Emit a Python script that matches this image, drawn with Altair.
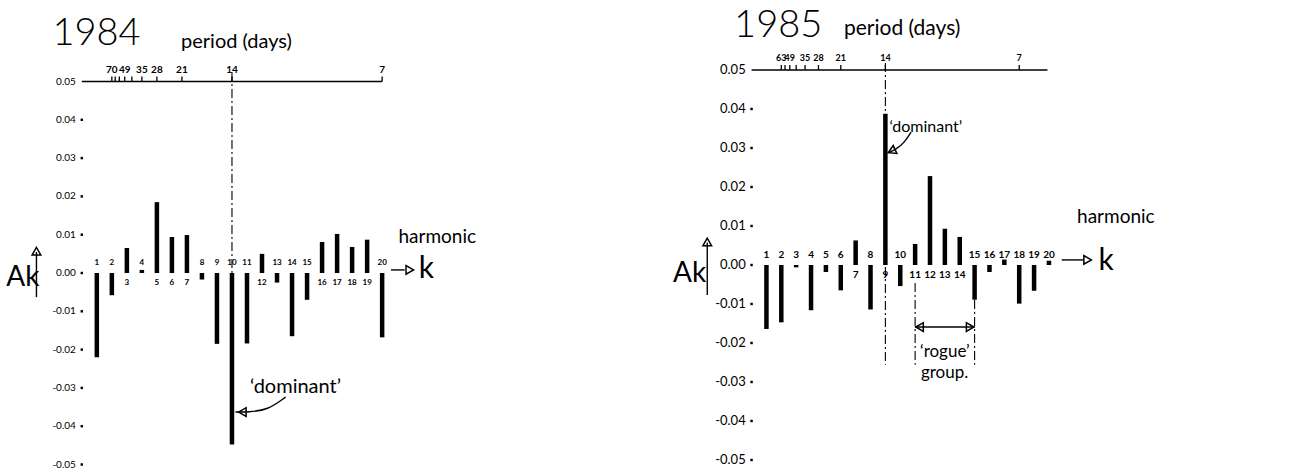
import altair as alt
import pandas as pd

# ---------------- values ----------------
harmonics = list(range(1, 21))
amp_1984 = [-0.0220, -0.0058, 0.0065, 0.0008, 0.0185, 0.0094, 0.0099, -0.0017, -0.0185, -0.0448,
            -0.0184, 0.0050, -0.0025, -0.0165, -0.0070, 0.0081, 0.0102, 0.0068, 0.0087, -0.0168]
amp_1985 = [-0.0164, -0.0147, -0.0006, -0.0116, -0.0018, -0.0065, 0.0063, -0.0114, 0.0388, -0.0054,
            0.0054, 0.0228, 0.0093, 0.0072, -0.0089, -0.0018, 0.0014, -0.0099, -0.0066, 0.0011]
record_days_1984 = 140   # 14-day period falls on harmonic 10
record_days_1985 = 126   # 14-day period falls on harmonic 9
period_ticks_1984 = [70, 63, 56, 49, 42, 35, 28, 21, 14, 7]
period_labels_1984 = [70, 49, 35, 28, 21, 14, 7]
period_ticks_1985 = [63, 56, 49, 42, 35, 28, 21, 14, 7]
period_labels_1985 = [63, 49, 35, 28, 21, 14, 7]
amp_ticks = [0.05, 0.04, 0.03, 0.02, 0.01, 0.00, -0.01, -0.02, -0.03, -0.04, -0.05]
rogue_group = [11, 15]

FONT = "Lato"
W, H = 654, 476


def panel(amps, N, pticks, plabels, xdom, ydom, ppu, fs_bar, fs_y, fs_top, texts, lines, tris, dashes, top_x2):
    xs = alt.Scale(domain=xdom, nice=False, zero=False)
    ys = alt.Scale(domain=ydom, nice=False, zero=False)

    def X(f="x"):
        return alt.X(f"{f}:Q", scale=xs, axis=None)

    def Y(f="y"):
        return alt.Y(f"{f}:Q", scale=ys, axis=None)

    layers = []
    # dash-dot guide lines
    dd = pd.DataFrame(dashes, columns=["x", "y", "y2"])
    layers.append(alt.Chart(dd).mark_rule(color="black", strokeWidth=1.1, strokeDash=[9, 3, 2, 3])
                  .encode(x=X(), y=Y(), y2=alt.Y2("y2:Q")))
    # top period axis
    top = pd.DataFrame({"x": [0.0], "x2": [top_x2], "y": [amp_ticks[0]]})
    layers.append(alt.Chart(top).mark_rule(color="black", strokeWidth=1.5)
                  .encode(x=X(), x2=alt.X2("x2:Q"), y=Y()))
    tk = pd.DataFrame({"x": [N / p for p in pticks]})
    tk["y"] = amp_ticks[0]
    tk["y2"] = amp_ticks[0] + 5.0 / ppu
    layers.append(alt.Chart(tk).mark_rule(color="black", strokeWidth=1.3)
                  .encode(x=X(), y=Y(), y2=alt.Y2("y2:Q")))
    tl = pd.DataFrame({"x": [N / p for p in plabels], "t": [str(p) for p in plabels]})
    tl["y"] = amp_ticks[0]
    layers.append(alt.Chart(tl).mark_text(baseline="bottom", dy=-7, fontSize=fs_top, fontWeight="bold",
                                          font=FONT, color="black")
                  .encode(x=X(), y=Y(), text="t:N"))
    # amplitude tick labels and dot ticks
    yl = pd.DataFrame({"y": amp_ticks, "t": [f"{v:.2f}" for v in amp_ticks]})
    yl["x"] = -6.0 / 15.2
    layers.append(alt.Chart(yl).mark_text(align="right", baseline="middle", fontSize=fs_y, font=FONT,
                                          color="black")
                  .encode(x=X(), y=Y(), text="t:N"))
    yd = pd.DataFrame({"y": amp_ticks[1:]})
    yd["x"] = 0.0
    layers.append(alt.Chart(yd).mark_square(size=6, color="black", opacity=1)
                  .encode(x=X(), y=Y()))
    # bars
    bd = pd.DataFrame({"x": harmonics, "y": amps})
    bd["y0"] = 0.0
    bd["t"] = [str(k) for k in harmonics]
    layers.append(alt.Chart(bd).mark_bar(size=4.5, color="black")
                  .encode(x=X(), y=Y(), y2=alt.Y2("y0:Q")))
    layers.append(alt.Chart(bd).transform_filter("datum.y < 0.002")
                  .mark_text(baseline="middle", dy=-10, fontSize=fs_bar, fontWeight="bold", font=FONT,
                             color="black")
                  .encode(x=X(), y=Y("y0"), text="t:N"))
    layers.append(alt.Chart(bd).transform_filter("datum.y >= 0.002")
                  .mark_text(baseline="middle", dy=10, fontSize=fs_bar, fontWeight="bold", font=FONT,
                             color="black")
                  .encode(x=X(), y=Y("y0"), text="t:N"))
    # annotation lines / arrows
    ln = pd.DataFrame(lines, columns=["g", "o", "x", "y"])
    layers.append(alt.Chart(ln).mark_line(color="black", strokeWidth=1.4, interpolate="basis")
                  .encode(x=X(), y=Y(), detail="g:N", order="o:Q"))
    tr = pd.DataFrame(tris, columns=["x", "y", "shape", "ang"])
    layers.append(alt.Chart(tr).mark_point(filled=False, color="black", strokeWidth=1.5, size=75, opacity=1)
                  .encode(x=X(), y=Y(), shape=alt.Shape("shape:N", scale=None),
                          angle=alt.Angle("ang:Q", scale=None)))
    # annotation texts
    tx = pd.DataFrame(texts, columns=["x", "y", "t", "fs", "fw"])
    for fw in sorted(set(tx["fw"])):
        sub = tx[tx["fw"] == fw]
        layers.append(alt.Chart(sub).mark_text(baseline="alphabetic", align="center", font=FONT,
                                               fontWeight=int(fw), color="black")
                      .encode(x=X(), y=Y(), text="t:N", size=alt.Size("fs:Q", scale=None)))
    return alt.layer(*layers).properties(width=W, height=H)


# ---------------- 1984 panel ----------------
ppu_l = 3830.0
left = panel(
    amp_1984, record_days_1984, period_ticks_1984, period_labels_1984,
    xdom=[-78 / 15.25, (W - 78) / 15.25], ydom=[-(H - 273) / ppu_l, 273 / ppu_l], ppu=ppu_l,
    fs_bar=8, fs_y=10, fs_top=10,
    texts=[
        (0.98, 0.0595, "1984", 38, 300),
        (10.3, 0.0587, "period (days)", 20, 400),
        (23.67, 0.0078, "harmonic", 19, 400),
        (-3.93, -0.0034, "Ak", 28, 400),
        (22.95, -0.0013, "k", 30, 400),
        (14.23, -0.0313, "\u2018dominant\u2019", 20, 400),
    ],
    lines=[
        ("dom", 0, 13.57, -0.0324), ("dom", 1, 12.39, -0.0358), ("dom", 2, 11.08, -0.0363),
        ("dom", 3, 10.23, -0.0363),
        ("k", 0, 20.59, 0.0008), ("k", 1, 21.5, 0.0008),
        ("ak", 0, -3.02, -0.0063), ("ak", 1, -3.02, 0.0055),
    ],
    tris=[
        (10.69, -0.0363, "triangle-left", 0),
        (21.84, 0.0008, "triangle-right", 0),
        (-3.02, 0.0057, "triangle-up", 0),
    ],
    dashes=[(10, 0.0525, 0.0)],
    top_x2=20.0,
)

# ---------------- 1985 panel ----------------
ppu_r = 3900.0
right = panel(
    amp_1985, record_days_1985, period_ticks_1985, period_labels_1985,
    xdom=[-94 / 15.1, (W - 94) / 15.1], ydom=[-(H - 265) / ppu_r, 265 / ppu_r], ppu=ppu_r,
    fs_bar=10, fs_y=13, fs_top=9,
    texts=[
        (1.79, 0.0585, "1985", 38, 300),
        (10.13, 0.0590, "period (days)", 21, 400),
        (24.5, 0.0108, "harmonic", 19, 400),
        (-4.17, -0.0044, "Ak", 28, 400),
        (23.84, -0.0013, "k", 30, 400),
        (11.72, 0.0341, "\u2018dominant\u2019", 16, 400),
        (13.0, -0.0236, "\u2018rogue\u2019", 17, 400),
        (12.98, -0.0290, "group.", 17, 400),
    ],
    lines=[
        ("dom", 0, 10.73, 0.0341), ("dom", 1, 10.26, 0.0313), ("dom", 2, 9.74, 0.0297),
        ("dom", 3, 9.21, 0.0288),
        ("k", 0, 20.86, 0.0013), ("k", 1, 22.3, 0.0013),
        ("ak", 0, -2.98, -0.0077), ("ak", 1, -2.98, 0.0057),
        ("rg", 0, rogue_group[0], -0.0159), ("rg", 1, rogue_group[1], -0.0159),
    ],
    tris=[
        (9.42, 0.0292, "triangle-left", 335),
        (22.6, 0.0013, "triangle-right", 0),
        (-2.98, 0.0059, "triangle-up", 0),
        (rogue_group[0] + 0.3, -0.0159, "triangle-left", 0),
        (rogue_group[1] - 0.3, -0.0159, "triangle-right", 0),
    ],
    dashes=[(9, 0.0518, -0.0256), (rogue_group[0], -0.0046, -0.0256), (rogue_group[1], -0.0046, -0.0256)],
    top_x2=19.9,
)

chart = (
    alt.hconcat(left, right, spacing=0)
    .properties(padding=0, background="white")
    .configure_view(stroke=None)
)

chart.save("out.html", embed_options={"renderer": "svg", "actions": False})
